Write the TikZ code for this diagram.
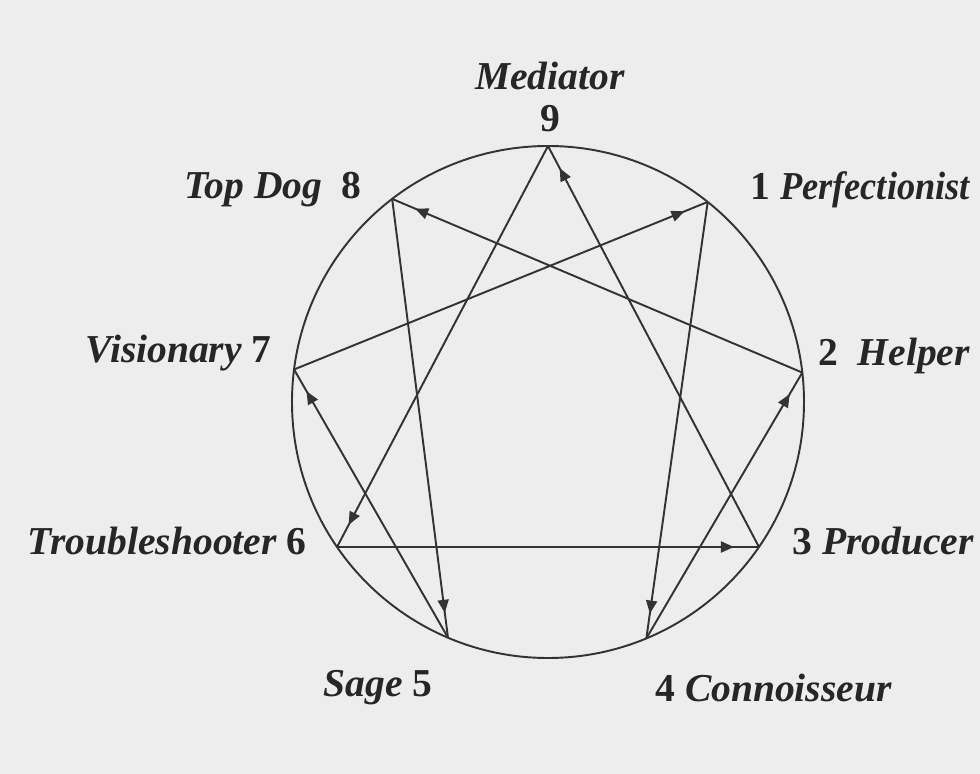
\documentclass[tikz,border=0pt]{standalone}
\usepackage{fontspec}
\setmainfont{Liberation Serif}
\usetikzlibrary{arrows.meta,decorations.markings}

\begin{document}
\begin{tikzpicture}[
  font=\fontsize{22.5}{26}\selectfont\bfseries,
  ink/.style={draw=black!80, line width=1.1pt},
  arr/.style={ink, postaction={decorate}, decoration={markings,
      mark=at position -0.5cm with {\arrow{Triangle[length=2.6mm,width=2.2mm]}}}},
  lab/.style={inner sep=0pt, text=black!85}
]
\useasboundingbox[fill=black!7] (-10.96,-7.44) rectangle (8.64,8.04);

% Circle and the nine points
\draw[ink] (0,0) circle (5.12);
\coordinate (p9) at (90:5.12);
\coordinate (p1) at (51.4:5.12);
\coordinate (p2) at (6.6:5.12);
\coordinate (p3) at (-34.5:5.12);
\coordinate (p4) at (-67.4:5.12);
\coordinate (p5) at (-113:5.12);
\coordinate (p6) at (-145.5:5.12);
\coordinate (p7) at (172.7:5.12);
\coordinate (p8) at (127.5:5.12);

% Labels
\node[lab, align=center, anchor=south] (n9) at (0.04,5.4) {\textit{Mediator}\\[-2pt]9};
\node[lab, anchor=east] (n8) at (-3.72,4.24) {\textit{Top Dog}\enspace 8};
\node[lab, anchor=west] (n1) at (4.04,4.24) {1 \scalebox{0.92}[1]{\textit{Perfectionist}}};
\node[lab, anchor=east] (n7) at (-5.52,0.98) {\textit{Visionary} 7};
\node[lab, anchor=west] (n2) at (5.4,0.92) {2\enspace\textit{Helper}};
\node[lab, anchor=east] (n6) at (-4.82,-2.78) {\textit{Troubleshooter} 6};
\node[lab, anchor=west] (n3) at (4.88,-2.78) {3 \textit{Producer}};
\node[lab, anchor=east] (n5) at (-2.3,-5.72) {\textit{Sage} 5};
\node[lab, anchor=west] (n4) at (2.14,-5.72) {4 \textit{Connoisseur}};

% Triangle
\draw[arr] (p3) -- (p9);
\draw[arr] (p9) -- (p6);
\draw[arr] (p6) -- (p3);

% Hexad
\draw[arr] (p7) -- (p1);
\draw[arr] (p1) -- (p4);
\draw[arr] (p4) -- (p2);
\draw[arr] (p2) -- (p8);
\draw[arr] (p8) -- (p5);
\draw[arr] (p5) -- (p7);
\end{tikzpicture}
\end{document}
